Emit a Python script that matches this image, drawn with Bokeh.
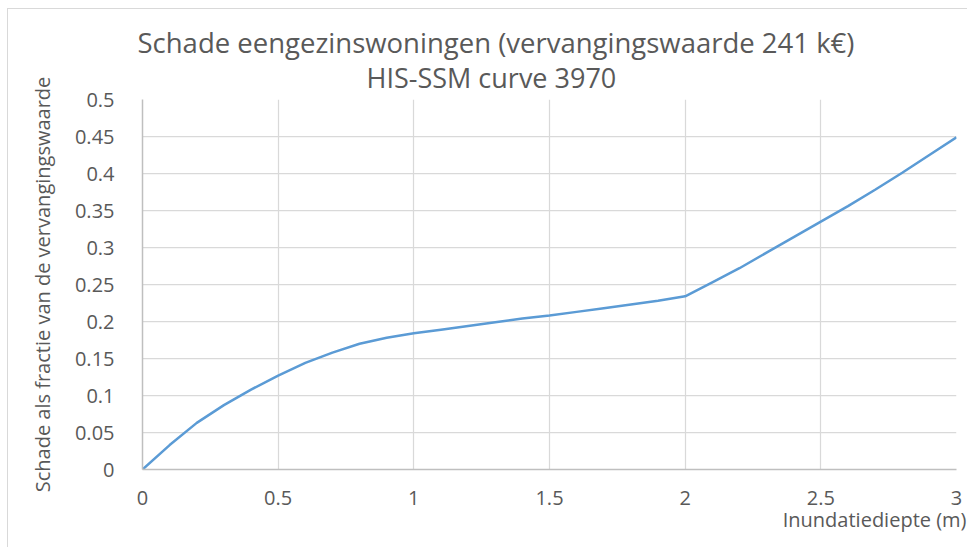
from bokeh.plotting import figure
from bokeh.models import Range1d, FixedTicker, Title
from bokeh.embed import file_html
from bokeh.resources import INLINE

# Data
depth = [0.0, 0.1, 0.2, 0.3, 0.4, 0.5, 0.6, 0.7, 0.8, 0.9, 1.0,
         1.1, 1.2, 1.3, 1.4, 1.5, 1.6, 1.7, 1.8, 1.9, 2.0,
         2.1, 2.2, 2.3, 2.4, 2.5, 2.6, 2.7, 2.8, 2.9, 3.0]
damage = [0.0, 0.033, 0.063, 0.087, 0.108, 0.127, 0.144, 0.158, 0.170, 0.178, 0.184,
          0.189, 0.194, 0.199, 0.204, 0.208, 0.213, 0.218, 0.223, 0.228, 0.234,
          0.253, 0.272, 0.293, 0.314, 0.335, 0.356, 0.378, 0.401, 0.425, 0.449]

x_ticks = [0, 0.5, 1, 1.5, 2, 2.5, 3]
x_tick_labels = ["0", "0.5", "1", "1.5", "2", "2.5", "3"]
y_ticks = [0, 0.05, 0.1, 0.15, 0.2, 0.25, 0.3, 0.35, 0.4, 0.45, 0.5]
y_tick_labels = ["0", "0.05", "0.1", "0.15", "0.2", "0.25", "0.3", "0.35", "0.4", "0.45", "0.5"]

title_line1 = "Schade eengezinswoningen (vervangingswaarde 241 k€)"
title_line2 = "HIS-SSM curve 3970"
x_label = "Inundatiediepte (m)"
y_label = "Schade als fractie van de vervangingswaarde"

FONT = "Open Sans"
TXT = "#595959"

p = figure(width=960, height=539, output_backend="svg", toolbar_location=None,
           x_range=Range1d(0, 3), y_range=Range1d(0, 0.5),
           min_border_left=134, min_border_right=12, min_border_top=90, min_border_bottom=79)
p.styles = {"margin-left": "7px", "margin-top": "8px",
            "border-left": "1px solid #d9d9d9", "border-top": "1px solid #d9d9d9"}
p.outline_line_color = None
p.background_fill_color = "white"
p.border_fill_color = "white"

p.line(depth, damage, line_color="#5B9BD5", line_width=2.5)

p.xaxis.ticker = FixedTicker(ticks=x_ticks)
p.yaxis.ticker = FixedTicker(ticks=y_ticks)
p.xaxis.major_label_overrides = {t: l for t, l in zip(x_ticks, x_tick_labels)}
p.yaxis.major_label_overrides = {t: l for t, l in zip(y_ticks, y_tick_labels)}

for ax in (p.xaxis, p.yaxis):
    ax.major_tick_line_color = None
    ax.minor_tick_line_color = None
    ax.axis_line_color = "#bfbfbf"
    ax.axis_line_width = 1.5
    ax.major_label_text_font = FONT
    ax.major_label_text_font_size = "20px"
    ax.major_label_text_color = TXT

p.xaxis.major_label_standoff = 15
p.yaxis.major_label_standoff = 22

p.yaxis.axis_label = y_label
p.yaxis.axis_label_text_font = FONT
p.yaxis.axis_label_text_font_size = "20px"
p.yaxis.axis_label_text_font_style = "normal"
p.yaxis.axis_label_text_color = TXT
p.yaxis.axis_label_standoff = 16

p.xgrid.grid_line_color = "#d9d9d9"
p.ygrid.grid_line_color = "#d9d9d9"
p.xgrid.grid_line_width = 1.25
p.ygrid.grid_line_width = 1.25

# Two-line title above the frame (first line outermost)
p.title.text = title_line1
p.title.align = "left"
p.title.offset = -5
p.title.text_font = FONT
p.title.text_font_size = "27.5px"
p.title.text_font_style = "normal"
p.title.text_color = TXT
p.title.standoff = -16
t2 = Title(text=title_line2, align="left", offset=224, text_font=FONT,
           text_font_size="27px", text_font_style="normal", text_color=TXT, standoff=8)
p.add_layout(t2, "above")

# x axis label at the bottom right
xl = Title(text=x_label, align="right", offset=-10, text_font=FONT,
           text_font_size="20px", text_font_style="normal", text_color=TXT, standoff=-8)
p.add_layout(xl, "below")

open("out.html", "w").write(file_html(p, INLINE))
